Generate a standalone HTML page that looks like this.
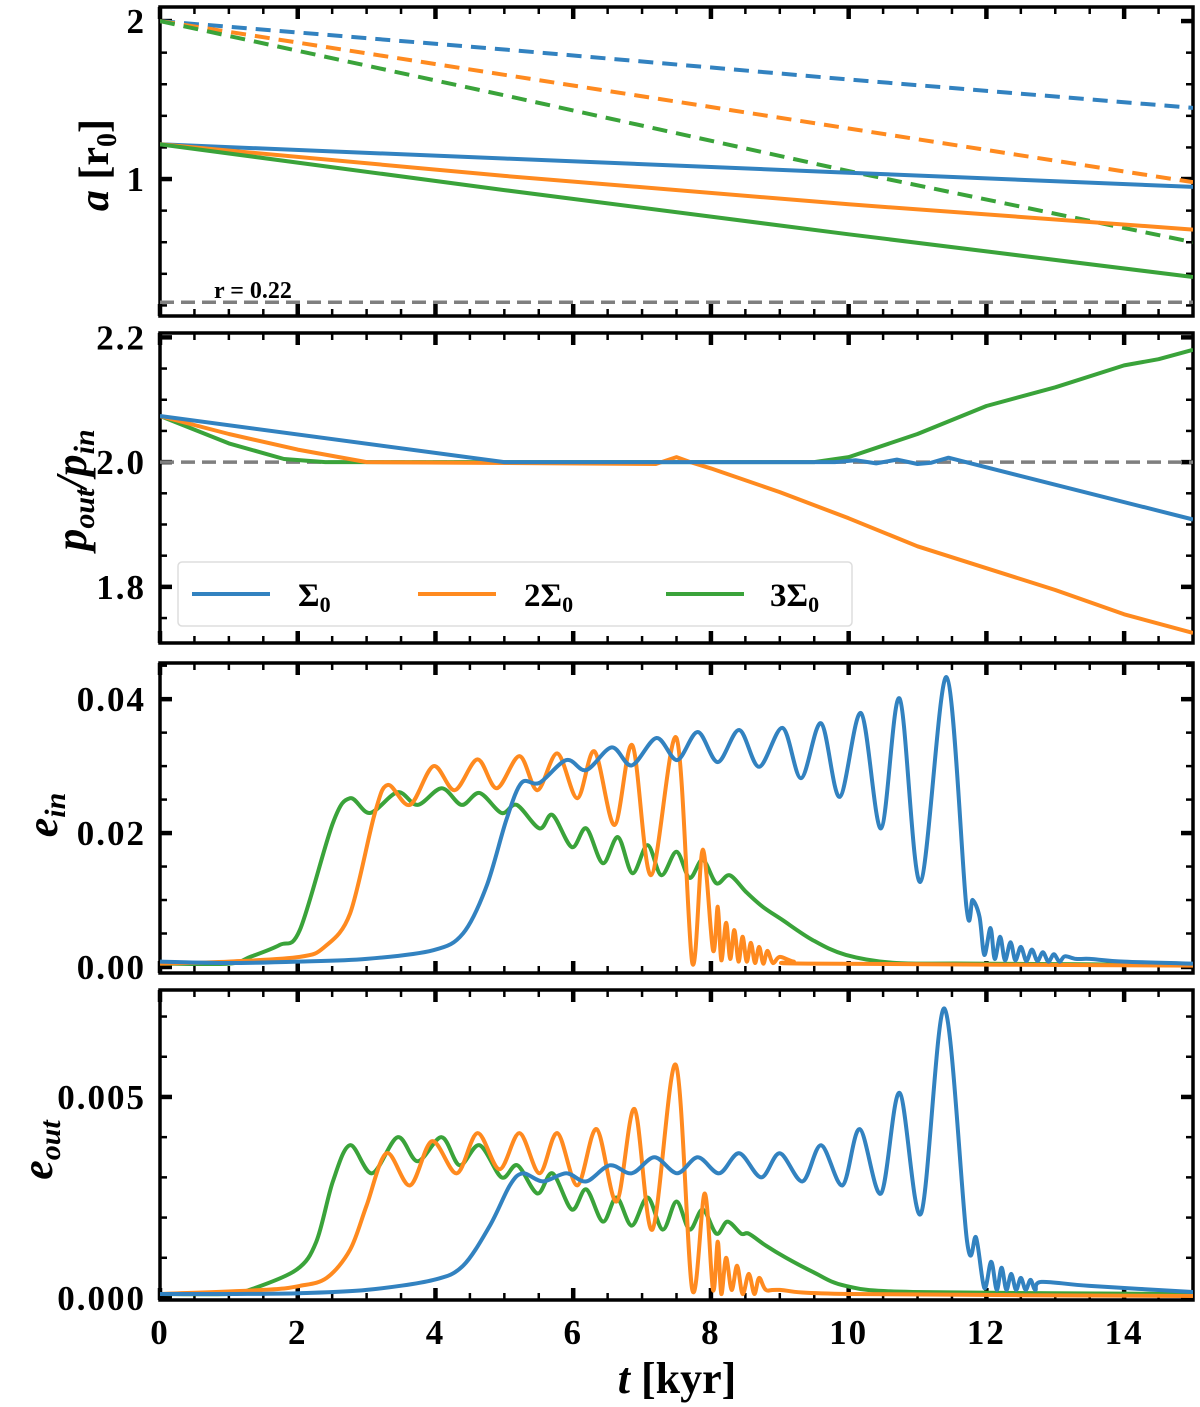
<!DOCTYPE html>
<html><head><meta charset="utf-8"><style>
body{margin:0;background:#fff}
svg{display:block;font-family:"Liberation Serif",serif;font-weight:bold}
</style></head><body>
<svg id="chart" width="1200" height="1407" viewBox="0 0 1200 1407" xmlns="http://www.w3.org/2000/svg"></svg>
<script>
// ---- data ----
const xTicks=[0,2,4,6,8,10,12,14];
// panel 1: semi-major axis
const aT=[0,5,10,15];
const aBlueSolid=[1.22,1.13,1.04,0.95];
const aOrangeSolid=[1.22,1.02,0.84,0.68];
const aGreenSolid=[1.22,0.93,0.65,0.38];
const aBlueDash=[2.0,1.82,1.63,1.45];
const aOrangeDash=[2.0,1.66,1.32,0.98];
const aGreenDash=[2.0,1.53,1.05,0.6];
const aRef=0.22;
const aTickLabels=["1","2"];
// panel 2: period ratio
const pBlueT=[0,5,9.8,10.1,10.4,10.7,11.0,11.2,11.45,11.7,15];
const pBlueV=[2.074,2.0,2.0,2.003,1.998,2.004,1.997,1.999,2.007,2.0,1.908];
const pOrangeT=[0,1,2,3,7.2,7.5,7.7,8,9,10,11,12,13,14,15];
const pOrangeV=[2.074,2.045,2.02,2.0,1.997,2.008,2.0,1.99,1.952,1.91,1.865,1.83,1.795,1.756,1.726];
const pGreenT=[0,1,1.8,2.4,9.5,10,11,12,13,14,14.5,15];
const pGreenV=[2.074,2.03,2.005,2.0,2.0,2.008,2.045,2.09,2.12,2.155,2.165,2.18];
const pTickLabels=["1.8","2.0","2.2"];
// panel 3: e_in
const eiBlueT=[0,1,2,3,3.97,4.4,4.74,5.03,5.25,5.51,5.9,6.19,6.56,6.85,7.21,7.51,7.81,8.1,8.41,8.7,9.04,9.31,9.6,9.87,10.18,10.47,10.74,11.04,11.42,11.71,11.8,11.9,11.97,12.06,12.12,12.2,12.27,12.35,12.42,12.5,12.58,12.66,12.74,12.82,12.9,12.98,13.06,13.14,13.3,13.5,14,15];
const eiBlueV=[0.0008,0.0006,0.0008,0.0012,0.0025,0.005,0.012,0.022,0.0275,0.0275,0.0309,0.0294,0.0328,0.0301,0.0342,0.0309,0.0351,0.0306,0.0354,0.0299,0.0357,0.0282,0.0364,0.0254,0.0379,0.0207,0.0401,0.0127,0.0433,0.009,0.010,0.0075,0.0018,0.0058,0.0012,0.0045,0.001,0.0037,0.001,0.003,0.0009,0.0026,0.0009,0.0022,0.0008,0.0019,0.0008,0.0016,0.0012,0.0012,0.0008,0.0005];
const eiOrangeT=[0,1,2.03,2.39,2.76,3.12,3.31,3.63,3.97,4.28,4.61,4.89,5.22,5.48,5.77,6.06,6.31,6.6,6.86,7.13,7.5,7.73,7.88,8.03,8.1,8.15,8.22,8.28,8.34,8.4,8.46,8.52,8.58,8.64,8.7,8.76,8.82,8.9,9.0,9.2,9.5,15];
const eiOrangeV=[0.0005,0.0008,0.0015,0.003,0.008,0.023,0.0272,0.0242,0.030,0.0264,0.031,0.0267,0.0315,0.0264,0.0319,0.0252,0.0322,0.0212,0.0331,0.0137,0.0342,0.0006,0.0175,0.0025,0.009,0.001,0.0066,0.0012,0.0055,0.0008,0.0045,0.0008,0.0036,0.0006,0.003,0.0005,0.0024,0.0006,0.0015,0.0008,0.0005,0.0002];
const eiGreenT=[0,1,1.31,1.74,2.03,2.51,2.76,3.05,3.45,3.74,4.09,4.38,4.64,4.96,5.18,5.51,5.7,5.98,6.19,6.43,6.65,6.86,7.08,7.28,7.5,7.69,7.88,8.08,8.27,8.51,8.75,9.04,9.48,9.96,10.69,11.8,15];
const eiGreenV=[0.0005,0.0005,0.0015,0.0033,0.0055,0.0215,0.0252,0.023,0.0261,0.0242,0.0267,0.0242,0.026,0.023,0.0242,0.0207,0.0227,0.0179,0.0207,0.0155,0.0194,0.014,0.0182,0.0137,0.0172,0.0133,0.016,0.0125,0.0137,0.0112,0.009,0.007,0.004,0.0018,0.0006,0.0005,0.0003];
const eiTickLabels=["0.00","0.02","0.04"];
// panel 4: e_out
const eoBlueT=[0,1,2.03,3,3.97,4.4,4.79,5.08,5.27,5.56,5.9,6.19,6.53,6.85,7.18,7.51,7.81,8.12,8.41,8.73,9.0,9.33,9.6,9.91,10.16,10.47,10.74,11.05,11.39,11.72,11.85,11.97,12.07,12.15,12.22,12.29,12.36,12.43,12.5,12.57,12.64,12.71,12.8,13.5,15];
const eoBlueV=[0.0001,0.0001,0.00012,0.0002,0.00045,0.0008,0.0018,0.0028,0.0031,0.0029,0.0031,0.0029,0.0033,0.0031,0.0035,0.0031,0.0035,0.0031,0.0036,0.003,0.0036,0.0029,0.0038,0.0028,0.0042,0.0026,0.0051,0.0021,0.0072,0.0014,0.0015,0.00025,0.0009,0.0002,0.00075,0.0002,0.0006,0.0002,0.0005,0.0002,0.00045,0.0002,0.0004,0.0003,0.00015];
const eoOrangeT=[0,1.5,2.03,2.42,2.76,3.0,3.29,3.63,3.95,4.31,4.61,4.93,5.22,5.51,5.77,6.06,6.34,6.63,6.89,7.15,7.49,7.73,7.91,8.03,8.1,8.15,8.22,8.3,8.38,8.46,8.55,8.63,8.7,8.8,9.0,10,15];
const eoOrangeV=[0.0001,0.0002,0.0003,0.0005,0.0012,0.0023,0.0036,0.0028,0.0039,0.0031,0.0041,0.0032,0.0041,0.0031,0.0041,0.0028,0.0042,0.0024,0.0047,0.0017,0.0058,0.0002,0.0026,0.0002,0.0014,0.0001,0.001,0.0002,0.0008,0.0001,0.0006,0.0001,0.0005,0.0002,0.0002,0.0001,0.00005];
const eoGreenT=[0,1,1.3,1.98,2.27,2.51,2.76,3.08,3.45,3.74,4.09,4.35,4.64,4.96,5.19,5.48,5.7,5.98,6.19,6.43,6.63,6.85,7.08,7.3,7.5,7.69,7.88,8.08,8.24,8.44,8.55,8.8,9.09,9.48,9.96,10.93,15];
const eoGreenV=[0.0001,0.0001,0.0002,0.0007,0.0014,0.0029,0.0038,0.0031,0.004,0.0034,0.004,0.0033,0.0038,0.003,0.0033,0.0026,0.0031,0.0022,0.0027,0.0019,0.0025,0.0018,0.0025,0.0017,0.0024,0.0017,0.0022,0.0016,0.0019,0.0016,0.0016,0.0013,0.001,0.00065,0.0003,0.00015,0.0001];
const eoTickLabels=["0.000","0.005"];

// ---- drawing ----
const svg=document.getElementById('chart');
const NS='http://www.w3.org/2000/svg';
const C={b:'#3282c0',o:'#ff8a1f',g:'#3aa33a',gray:'#7f7f7f'};
const X0=160,X1=1193;
const xs=t=>X0+(t-0)/(15-0)*(X1-X0);
function mk(tag,attrs,parent){const e=document.createElementNS(NS,tag);for(const k in attrs)e.setAttribute(k,attrs[k]);(parent||svg).appendChild(e);return e;}

const panels=[
 {name:'a-panel',top:7,bot:316,min:0.133,max:2.089,major:[1,2],minorStep:0.2,labels:aTickLabels},
 {name:'period-ratio-panel',top:333,bot:643,min:1.71,max:2.207,major:[1.8,2.0,2.2],minorStep:0.05,labels:pTickLabels},
 {name:'e-in-panel',top:663,bot:973,min:-0.0009,max:0.0454,major:[0,0.02,0.04],minorStep:0.005,labels:eiTickLabels},
 {name:'e-out-panel',top:990,bot:1300,min:-0.00005,max:0.00766,major:[0,0.005],minorStep:0.001,labels:eoTickLabels}
];
panels.forEach(p=>{p.ys=v=>p.bot-(v-p.min)/(p.max-p.min)*(p.bot-p.top);});

function smoothPath(pts){
  let d='M'+pts[0][0].toFixed(1)+','+pts[0][1].toFixed(1);
  for(let i=0;i<pts.length-1;i++){
    const p0=pts[Math.max(0,i-1)],p1=pts[i],p2=pts[i+1],p3=pts[Math.min(pts.length-1,i+2)];
    const k=0.16;
    const c1=[p1[0]+(p2[0]-p0[0])*k,p1[1]+(p2[1]-p0[1])*k];
    const c2=[p2[0]-(p3[0]-p1[0])*k,p2[1]-(p3[1]-p1[1])*k];
    d+=' C'+c1[0].toFixed(1)+','+c1[1].toFixed(1)+' '+c2[0].toFixed(1)+','+c2[1].toFixed(1)+' '+p2[0].toFixed(1)+','+p2[1].toFixed(1);
  }
  return d;
}
function linPath(pts){return 'M'+pts.map(p=>p[0].toFixed(1)+','+p[1].toFixed(1)).join(' L');}
function line(p,T,V,color,name,dash,smooth){
  const pts=T.map((t,i)=>[xs(t),p.ys(V[i])]);
  const g=mk('path',{d:smooth?smoothPath(pts):linPath(pts),fill:'none',stroke:color,'stroke-width':4,'stroke-linejoin':'round','stroke-dasharray':dash||'none','clip-path':'url(#clip-'+p.name+')'});
  
  
}

panels.forEach((p,pi)=>{
  const cp=mk('clipPath',{id:'clip-'+p.name});mk('rect',{x:X0,y:p.top,width:X1-X0,height:p.bot-p.top},cp);
  const g=mk('g',{});
  
  
  for(let t=0;t<=15.001;t+=0.5){
    const maj=Math.abs(t/2-Math.round(t/2))<1e-6;const L=maj?12:7;const w=maj?4.5:2.5;
    mk('line',{x1:xs(t),x2:xs(t),y1:p.bot,y2:p.bot-L,stroke:'#000','stroke-width':w},g);
    mk('line',{x1:xs(t),x2:xs(t),y1:p.top,y2:p.top+L,stroke:'#000','stroke-width':w},g);
  }
  const start=Math.ceil(p.min/p.minorStep-1e-6);
  for(let k=start;k*p.minorStep<=p.max+1e-9;k++){
    const v=k*p.minorStep;const maj=p.major.some(m=>Math.abs(m-v)<1e-9);const L=maj?12:7;const w=maj?4.5:2.5;
    const y=p.ys(v);
    mk('line',{x1:X0,x2:X0+L,y1:y,y2:y,stroke:'#000','stroke-width':w},g);
    mk('line',{x1:X1,x2:X1-L,y1:y,y2:y,stroke:'#000','stroke-width':w},g);
  }
  p.major.forEach((m,i)=>{
    const tx=mk('text',{x:146,y:p.ys(m)+12,'text-anchor':'end','font-size':35,'letter-spacing':2},g);tx.textContent=p.labels[i];
    
    
  });
  mk('rect',{x:X0,y:p.top,width:X1-X0,height:p.bot-p.top,fill:'none',stroke:'#000','stroke-width':3.5},g);
});

const P1=panels[0];
mk('line',{x1:X0,x2:X1,y1:P1.ys(aRef),y2:P1.ys(aRef),stroke:C.gray,'stroke-width':3.5,'stroke-dasharray':'14,7'});
const rt=mk('text',{x:214,y:298,'font-size':24});rt.textContent='r = 0.22';


line(P1,aT,aBlueDash,C.b,'a-out-sigma0','15,9',false);
line(P1,aT,aOrangeDash,C.o,'a-out-2sigma0','15,9',false);
line(P1,aT,aGreenDash,C.g,'a-out-3sigma0','15,9',false);
line(P1,aT,aBlueSolid,C.b,'a-in-sigma0',null,false);
line(P1,aT,aOrangeSolid,C.o,'a-in-2sigma0',null,false);
line(P1,aT,aGreenSolid,C.g,'a-in-3sigma0',null,false);
const P2=panels[1];
mk('line',{x1:X0,x2:X1,y1:P2.ys(2),y2:P2.ys(2),stroke:C.gray,'stroke-width':3.5,'stroke-dasharray':'14,7'});
line(P2,pGreenT,pGreenV,C.g,'ratio-3sigma0',null,false);
line(P2,pOrangeT,pOrangeV,C.o,'ratio-2sigma0',null,false);
line(P2,pBlueT,pBlueV,C.b,'ratio-sigma0',null,false);
const P3=panels[2];
line(P3,eiGreenT,eiGreenV,C.g,'e-in-3sigma0',null,true);
line(P3,eiOrangeT,eiOrangeV,C.o,'e-in-2sigma0',null,true);
line(P3,eiBlueT,eiBlueV,C.b,'e-in-sigma0',null,true);
const P4=panels[3];
line(P4,eoGreenT,eoGreenV,C.g,'e-out-3sigma0',null,true);
line(P4,eoOrangeT,eoOrangeV,C.o,'e-out-2sigma0',null,true);
line(P4,eoBlueT,eoBlueV,C.b,'e-out-sigma0',null,true);

xTicks.forEach(t=>{const tx=mk('text',{x:xs(t),y:1344,'text-anchor':'middle','font-size':35,'letter-spacing':2});tx.textContent=t;
  
  });
</script>
<svg style="position:absolute;left:0;top:0" width="1200" height="1407" xmlns="http://www.w3.org/2000/svg">
<g font-family="Liberation Serif,serif" font-weight="bold" font-size="33">
 <rect x="178" y="562" width="674" height="64" rx="4" fill="#fff" fill-opacity="0.85" stroke="#ddd" stroke-width="1.5"/>
 <g><line x1="192" x2="270" y1="594" y2="594" stroke="#3282c0" stroke-width="4"/><text x="298" y="606">Σ<tspan font-size="22" dy="6">0</tspan></text></g>
 <g><line x1="418" x2="496" y1="594" y2="594" stroke="#ff8a1f" stroke-width="4"/><text x="524" y="606">2Σ<tspan font-size="22" dy="6">0</tspan></text></g>
 <g><line x1="666" x2="744" y1="594" y2="594" stroke="#3aa33a" stroke-width="4"/><text x="770" y="606">3Σ<tspan font-size="22" dy="6">0</tspan></text></g>
</g>
<g font-family="Liberation Serif,serif" font-weight="bold">
 <text transform="translate(108,165) rotate(-90)" text-anchor="middle" font-size="42"><tspan font-style="italic">a</tspan> [r<tspan font-size="28" dy="8">0</tspan><tspan dy="-8">]</tspan></text>
 <text transform="translate(86,490) rotate(-90)" text-anchor="middle" font-size="44" font-style="italic">p<tspan font-size="30" dy="8">out</tspan><tspan dy="-8">/p</tspan><tspan font-size="30" dy="8">in</tspan></text>
 <text transform="translate(57,815) rotate(-90)" text-anchor="middle" font-size="44" font-style="italic">e<tspan font-size="30" dy="8">in</tspan></text>
 <text transform="translate(52,1150) rotate(-90)" text-anchor="middle" font-size="44" font-style="italic">e<tspan font-size="30" dy="8">out</tspan></text>
 <text x="677" y="1393" text-anchor="middle" font-size="44"><tspan font-style="italic">t</tspan> [kyr]</text>
</g>
</svg>
</body></html>
